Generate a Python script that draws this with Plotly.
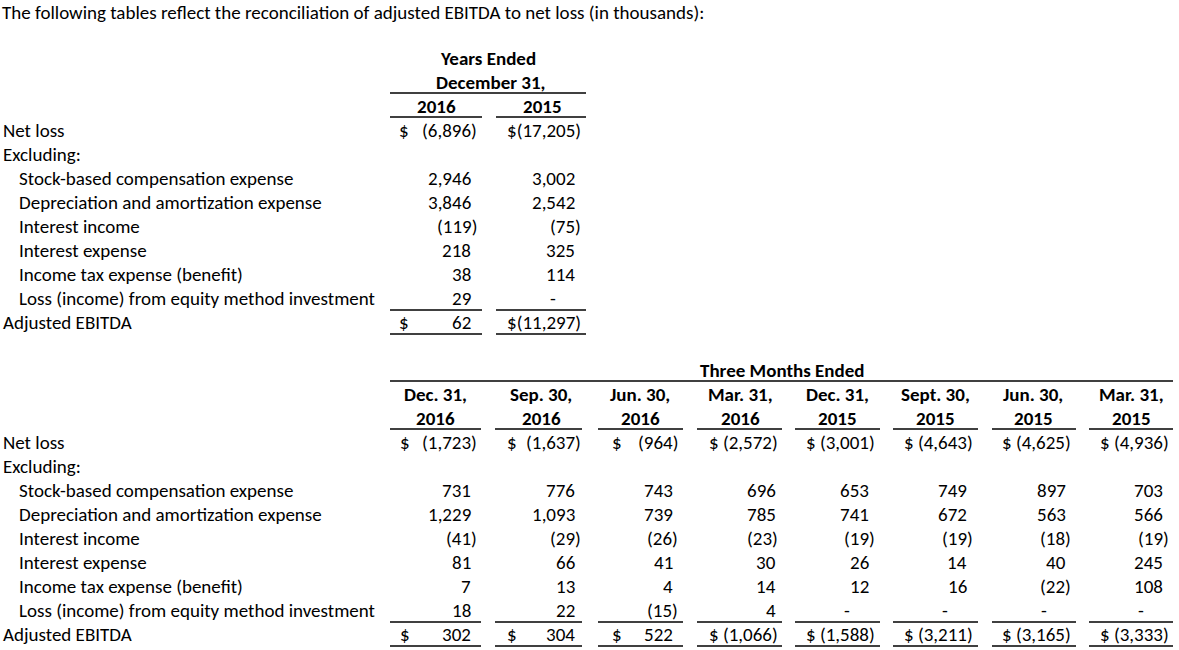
import plotly.graph_objects as go

# ---------------- data ----------------
title_text = "The following tables reflect the reconciliation of adjusted EBITDA to net loss (in thousands):"

row_labels = [
    "Net loss",
    "Stock-based compensation expense",
    "Depreciation and amortization expense",
    "Interest income",
    "Interest expense",
    "Income tax expense (benefit)",
    "Loss (income) from equity method investment",
    "Adjusted EBITDA",
]
excluding_label = "Excluding:"

annual_header_top = ["Years Ended", "December 31,"]
annual_years = ["2016", "2015"]
annual_2016 = [-6896, 2946, 3846, -119, 218, 38, 29, 62]
annual_2015 = [-17205, 3002, 2542, -75, 325, 114, None, -11297]

quarter_header_top = "Three Months Ended"
quarter_dates = ["Dec. 31,", "Sep. 30,", "Jun. 30,", "Mar. 31,", "Dec. 31,", "Sept. 30,", "Jun. 30,", "Mar. 31,"]
quarter_years = ["2016", "2016", "2016", "2016", "2015", "2015", "2015", "2015"]
q_dec16 = [-1723, 731, 1229, -41, 81, 7, 18, 302]
q_sep16 = [-1637, 776, 1093, -29, 66, 13, 22, 304]
q_jun16 = [-964, 743, 739, -26, 41, 4, -15, 522]
q_mar16 = [-2572, 696, 785, -23, 30, 14, 4, -1066]
q_dec15 = [-3001, 653, 741, -19, 26, 12, None, -1588]
q_sep15 = [-4643, 749, 672, -19, 14, 16, None, -3211]
q_jun15 = [-4625, 897, 563, -18, 40, -22, None, -3165]
q_mar15 = [-4936, 703, 566, -19, 245, 108, None, -3333]

# ---------------- layout / style ----------------
FONT = "Carlito, Calibri, Lato, sans-serif"
FS = 19
COLOR = "#000000"
W, H = 1179, 650

def fmt(v):
    if v is None:
        return "-"
    s = f"{abs(v):,}"
    return f"({s})" if v < 0 else s

annotations = []
shapes = []

def text(x, y, s, anchor="left", bold=False, size=FS):
    annotations.append(dict(
        x=x, y=y, xref="x", yref="y", text=f"<b>{s}</b>" if bold else s,
        showarrow=False, xanchor=anchor, yanchor="middle",
        font=dict(family=FONT, size=size, color=COLOR),
        borderpad=0, borderwidth=0,
    ))

def hline(x0, x1, y):
    shapes.append(dict(type="line", xref="x", yref="y", x0=x0, x1=x1, y0=y, y1=y,
                       line=dict(color="#000000", width=1.4)))

# title
text(2, 12, title_text)

def table(y_first, cols, col_values):
    ys = [y_first + 24 * i for i in range(9)]
    label_rows = [0, 2, 3, 4, 5, 6, 7, 8]
    text(3, ys[0], row_labels[0])
    text(3, ys[1], excluding_label)
    for k in range(1, 7):
        text(19, ys[label_rows[k]], row_labels[k])
    text(3, ys[8], row_labels[7])
    for c, vals in zip(cols, col_values):
        for k, v in enumerate(vals):
            y = ys[label_rows[k]]
            if v is None:
                text(c["pos"] - 22, y, "-", anchor="center")
                continue
            s = fmt(v)
            right = c["par"] if (v < 0) else c["pos"]
            dollar_row = k in (0, 7)
            if dollar_row and c["style"] != "split":
                prefix = "$" if c["style"] == "joined" else "$ "
                text(right, y, prefix + s, anchor="right")
            else:
                text(right, y, s, anchor="right")
                if dollar_row:
                    text(c["dollar"], y, "$", anchor="center")
        hline(c["l"], c["r"], ys[8] - 12)
        hline(c["l"], c["r"], ys[8] + 12)
    return ys

# ---- annual table ----
annual_cols = [
    dict(l=390, r=482, pos=471, par=477, dollar=404, style="split", hc=436),
    dict(l=496, r=586, pos=575, par=581, dollar=None, style="joined", hc=542),
]
text(488, 58, annual_header_top[0], anchor="center", bold=True)
text(490, 82, annual_header_top[1], anchor="center", bold=True)
hline(390, 586, 93)
for c, yr in zip(annual_cols, annual_years):
    text(c["hc"], 106, yr, anchor="center", bold=True)
    hline(c["l"], c["r"], 117)
table(130, annual_cols, [annual_2016, annual_2015])

# ---- quarterly table ----
quarter_cols = [
    dict(l=390, r=481, pos=471, par=477, dollar=405, style="split", hc=435),
    dict(l=495, r=582, pos=575, par=581, dollar=512, style="split", hc=541),
    dict(l=598, r=683, pos=673, par=678, dollar=617, style="split", hc=640),
    dict(l=697, r=782, pos=776, par=778, dollar=None, style="spaced", hc=740),
    dict(l=795, r=880, pos=869, par=875, dollar=None, style="spaced", hc=837),
    dict(l=893, r=978, pos=967, par=973, dollar=None, style="spaced", hc=935),
    dict(l=992, r=1076, pos=1066, par=1071, dollar=None, style="spaced", hc=1033),
    dict(l=1089, r=1173, pos=1163, par=1169, dollar=None, style="spaced", hc=1131),
]
text(782, 370, quarter_header_top, anchor="center", bold=True)
hline(390, 1173, 381)
for c, d, yr in zip(quarter_cols, quarter_dates, quarter_years):
    text(c["hc"], 394, d, anchor="center", bold=True)
    text(c["hc"], 418, yr, anchor="center", bold=True)
    hline(c["l"], c["r"], 429)
table(442, quarter_cols, [q_dec16, q_sep16, q_jun16, q_mar16, q_dec15, q_sep15, q_jun15, q_mar15])

fig = go.Figure()
fig.update_layout(
    width=W, height=H,
    margin=dict(l=0, r=0, t=0, b=0),
    paper_bgcolor="white", plot_bgcolor="white",
    xaxis=dict(range=[0, W], visible=False, fixedrange=True),
    yaxis=dict(range=[H, 0], visible=False, fixedrange=True),
    annotations=annotations, shapes=shapes,
    showlegend=False,
)
fig.write_html(
    "out.html",
    config={"displayModeBar": False},
    post_script="document.body.style.margin='0';document.body.style.overflow='hidden';",
)
